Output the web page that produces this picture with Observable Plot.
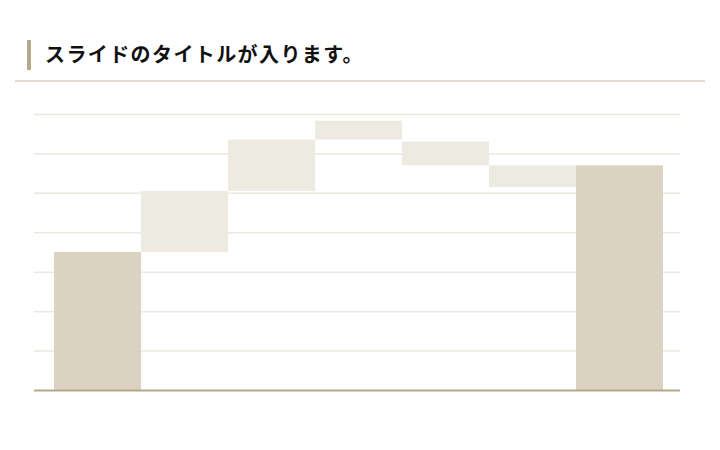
<!DOCTYPE html>
<html><head><meta charset="utf-8">
<script src="https://cdn.jsdelivr.net/npm/d3@7"></script>
<script src="https://cdn.jsdelivr.net/npm/@observablehq/plot@0.6"></script>
<style>
html,body{margin:0;padding:0;background:#fff;}
#wrap{position:relative;width:720px;height:450px;overflow:hidden;}
#accent{position:absolute;left:27px;top:40px;width:4px;height:30px;background:#b3a88c;}
#title{position:absolute;left:45px;top:39px;font-family:"Noto Sans CJK JP";font-weight:700;font-size:20px;color:#111;letter-spacing:1.4px;white-space:nowrap;}
#rule{position:absolute;left:15px;top:80px;width:690px;height:2px;background:#e2dccf;}
#chart{position:absolute;left:0;top:0;}
</style></head>
<body><div id="wrap"><div id="accent"></div><div id="title">スライドのタイトルが入ります。</div><div id="rule"></div><div id="chart"></div></div>
<script>
const categories = ["開始","項目1","項目2","項目3","項目4","項目5","合計"];
const lows  = [0, 35, 50.5, 63.5, 57, 51.5, 0];
const highs = [35, 50.5, 63.5, 68.3, 63, 57, 57];
const kinds = ["total","delta","delta","delta","delta","delta","total"];
const gridTicks = [10, 20, 30, 40, 50, 60, 70];

const data = categories.map((c, i) => ({cat: c, lo: lows[i], hi: highs[i], kind: kinds[i]}));

const chart = Plot.plot({
  width: 720, height: 450,
  marginTop: 114, marginBottom: 60, marginLeft: 34, marginRight: 40,
  x: {domain: categories, padding: 0, insetLeft: 18.5, insetRight: 16.5, axis: null},
  y: {domain: [0, 70], axis: null},
  color: {domain: ["total","delta"], range: ["#dbd3c1","#edeae2"]},
  style: {background: "transparent"},
  marks: [
    Plot.ruleY(gridTicks, {stroke: "#ece8df", strokeWidth: 1.5}),
    Plot.barY(data, {x: "cat", y1: "lo", y2: "hi", fill: "kind", inset: 0}),
    Plot.ruleY([0], {stroke: "#b5a78a", strokeWidth: 2})
  ]
});
document.getElementById("chart").appendChild(chart);
</script></body></html>
